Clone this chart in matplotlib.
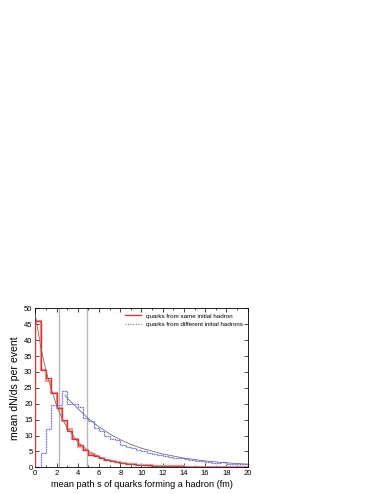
import numpy as np
import matplotlib.pyplot as plt

plt.rcParams['font.family'] = ['Liberation Sans', 'DejaVu Sans']

# bin edges 0..20 fm, width 0.5
edges = np.arange(0, 20.01, 0.5)

same_hadron = [46, 30.5, 28, 23.5, 18.5, 15, 11.5, 9, 7, 5.5,
               4.0, 3.5, 3.0, 2.2, 2.0, 1.6, 1.4, 1.2, 1.0, 0.8,
               0.7, 0.6, 0.5, 0.45, 0.4, 0.35, 0.3, 0.3, 0.25, 0.2,
               0.2, 0.2, 0.15, 0.15, 0.1, 0.1, 0.1, 0.1, 0.1, 0.1]
same_hadron_b = [46, 30.5, 27, 23.5, 18.5, 14.5, 12, 9, 6.5, 5.5,
                 4.3, 3.5, 2.8, 2.3, 1.9, 1.6, 1.4, 1.1, 1.0, 0.8,
                 0.7, 0.6, 0.5, 0.45, 0.4, 0.35, 0.3, 0.3, 0.25, 0.2,
                 0.2, 0.2, 0.15, 0.15, 0.1, 0.1, 0.1, 0.1, 0.1, 0.1]
diff_hadron = [0, 4.5, 12, 19.5, 19.5, 24, 20, 20, 19, 15.5,
               14.5, 12.5, 11.5, 10, 9, 8.5, 7, 6.5, 6, 5.5,
               5, 4.5, 4.3, 3.8, 3.6, 3.2, 3.0, 2.8, 2.7, 2.3,
               2.0, 1.9, 1.7, 1.5, 1.4, 1.6, 1.2, 1.0, 0.9, 0.9]

# fitted curves
fit_same_x = [0, 0.5, 1, 1.5, 2, 2.5, 3, 4, 5, 6, 7, 8, 10, 12, 14, 16, 18, 20]
fit_same_y = [48, 38, 30.5, 24.5, 19.5, 15.5, 12.5, 8, 5.1, 3.3, 2.1, 1.3,
              0.55, 0.22, 0.1, 0.04, 0.02, 0.01]
fit_diff_x = [2.8, 3, 4, 5, 6, 7, 8, 9, 10, 12, 14, 16, 18, 20]
fit_diff_y = [22.7, 21.8, 18.5, 15.3, 12.7, 10.5, 8.7, 7.2, 6.0, 4.2, 2.9,
              2.0, 1.4, 1.0]

mean_paths = [2.2, 4.9]

fig = plt.figure(figsize=(3.82, 4.94), dpi=100)
ax = fig.add_axes([0.0924, 0.054, 0.556, 0.3219])

for xm in mean_paths:
    ax.axvline(xm, color='#b8b8b8', lw=1.0, zorder=1)

ax.stairs(same_hadron_b, edges, color='#ff9a9a', lw=1.6, zorder=2)
ax.stairs(diff_hadron, edges, color='#c4c4ff', lw=1.0, zorder=2)
ax.stairs(same_hadron, edges, color='#ff2020', lw=0.9, zorder=3,
          label='quarks from same initial hadron')
ax.stairs(diff_hadron, edges, color='#4a4aff', lw=0.7, ls=':', zorder=3,
          label='quarks from different initial hadrons')

ax.plot(fit_same_x, fit_same_y, color='#707070', lw=0.6, zorder=4)
ax.plot(fit_diff_x, fit_diff_y, color='#707070', lw=0.6, zorder=4)

ax.set_xlim(0, 20)
ax.set_ylim(0, 50)
ax.set_xticks(np.arange(0, 21, 2))
ax.set_yticks(np.arange(0, 51, 5))
ax.set_xticks(np.arange(0, 21, 1), minor=True)
ax.tick_params(which='both', direction='in', top=True, right=True,
               labelsize=5.5, width=0.5, pad=2)
ax.tick_params(which='major', length=3)
ax.tick_params(which='minor', length=1.5)
for s in ax.spines.values():
    s.set_linewidth(0.6)

ax.set_xlabel('mean path s of quarks forming a hadron (fm)', fontsize=6.6, labelpad=2)
ax.set_ylabel('mean dN/ds per event', fontsize=7.6, labelpad=3)

ax.legend(loc='upper right', frameon=False, fontsize=4.5, handlelength=2.6,
          handletextpad=0.8, borderaxespad=0.4, labelspacing=0.55)

fig.savefig('out.png', dpi=100)
